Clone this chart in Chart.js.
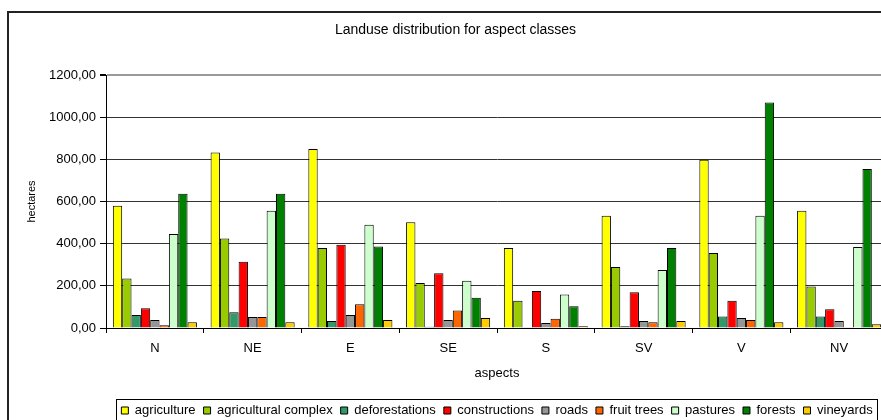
<!DOCTYPE html>
<html>
<head>
<meta charset="utf-8">
<script src="https://cdn.jsdelivr.net/npm/chart.js@4.4.1/dist/chart.umd.min.js"></script>
<style>
  html, body { margin: 0; padding: 0; background: #fff; overflow: hidden; width: 881px; height: 420px; }
  #wrap { position: absolute; left: 0; top: 0; width: 905px; height: 427px; }
</style>
</head>
<body>
<div id="wrap"><canvas id="c"></canvas></div>
<script>
const categories = ['N', 'NE', 'E', 'SE', 'S', 'SV', 'V', 'NV'];
const agriculture         = [580, 833, 849, 502, 380, 532, 798, 556];
const agriculturalComplex = [235, 425, 380, 213, 129, 289, 356, 197];
const deforestations      = [62, 75, 33, 6, 3, 8, 54, 54];
const constructions       = [94, 314, 395, 260, 176, 170, 129, 89];
const roads               = [38, 52, 62, 38, 24, 33, 48, 33];
const fruitTrees          = [13, 52, 113, 83, 44, 27, 38, 3];
const pastures            = [446, 556, 490, 224, 159, 275, 532, 384];
const forests             = [637, 637, 386, 143, 103, 380, 1070, 754];
const vineyards           = [27, 27, 38, 48, 8, 33, 27, 18];
const yTicks = [0, 200, 400, 600, 800, 1000, 1200];

const seriesNames = ['agriculture', 'agricultural complex', 'deforestations', 'constructions', 'roads', 'fruit trees', 'pastures', 'forests', 'vineyards'];
const seriesData = [agriculture, agriculturalComplex, deforestations, constructions, roads, fruitTrees, pastures, forests, vineyards];
const seriesColors = ['#FFFF00', '#99CC00', '#339966', '#FF0000', '#969696', '#FF6600', '#CCFFCC', '#008000', '#FFCC00'];

Chart.defaults.font.family = "'Liberation Sans', Arial, sans-serif";
Chart.defaults.color = '#000';

const frame = {
  id: 'frame',
  beforeDraw(chart) {
    const ctx = chart.ctx;
    ctx.save();
    ctx.fillStyle = '#fff';
    ctx.fillRect(0, 0, chart.width, chart.height);
    ctx.strokeStyle = '#222';
    ctx.lineWidth = 2;
    ctx.strokeRect(8, 12, chart.width + 20, chart.height + 20);
    ctx.restore();
  },
  afterDraw(chart) {
    const lg = chart.legend;
    if (!lg || !lg.legendHitBoxes || !lg.legendHitBoxes.length) return;
    const hb = lg.legendHitBoxes;
    let minX = Infinity, maxX = -Infinity, minY = Infinity, maxY = -Infinity;
    hb.forEach(b => {
      minX = Math.min(minX, b.left); maxX = Math.max(maxX, b.left + b.width);
      minY = Math.min(minY, b.top); maxY = Math.max(maxY, b.top + b.height);
    });
    const ctx = chart.ctx;
    ctx.save();
    ctx.strokeStyle = '#000';
    ctx.lineWidth = 1;
    ctx.strokeRect(Math.round(minX - 5) + 0.5, Math.round(minY - 5) + 0.5, Math.round(maxX - minX + 10), Math.round(maxY - minY + 10));
    ctx.restore();
  }
};

new Chart(document.getElementById('c'), {
  type: 'bar',
  data: {
    labels: categories,
    datasets: seriesNames.map((n, i) => ({
      label: n,
      data: seriesData[i],
      backgroundColor: seriesColors[i],
      borderColor: '#000',
      borderWidth: 1,
      categoryPercentage: 0.86,
      barPercentage: 1.0
    }))
  },
  options: {
    responsive: true,
    maintainAspectRatio: false,
    animation: false,
    layout: { padding: { top: 12, left: 23, right: 17, bottom: 0 } },
    plugins: {
      title: {
        display: true,
        text: 'Landuse distribution for aspect classes',
        color: '#000',
        font: { size: 14, weight: 'normal' },
        padding: { top: 9.6, bottom: 36.6 }
      },
      legend: {
        position: 'bottom',
        fullSize: false,
        labels: { boxWidth: 7, boxHeight: 7, padding: 8, color: '#000', font: { size: 13 } }
      },
      tooltip: { enabled: false }
    },
    scales: {
      x: {
        offset: true,
        grid: { offset: true, drawOnChartArea: false, color: '#000', tickColor: '#000', tickLength: 5 },
        border: { color: '#000', width: 1 },
        ticks: { color: '#000', font: { size: 13 }, padding: 8 },
        title: { display: true, text: 'aspects', color: '#000', font: { size: 13 }, padding: { top: 0, bottom: 15.2 } },
        afterFit(s) { s.height = 68; }
      },
      y: {
        min: 0,
        max: 1200,
        afterBuildTicks(s) { s.ticks = yTicks.map(v => ({ value: v })); },
        ticks: {
          color: '#000',
          font: { size: 13 },
          padding: 4,
          callback: v => Number(v).toFixed(2).replace('.', ',')
        },
        grid: {
          color: c => (c.tick && c.tick.value === 1200) ? '#9a9a9a' : '#333',
          lineWidth: c => (c.tick && c.tick.value === 1200) ? 2 : 1,
          tickColor: '#000',
          tickLength: 6
        },
        border: { color: '#000', width: 1 },
        title: { display: true, text: 'hectares', color: '#000', font: { size: 11 }, padding: { top: 2.4, bottom: 0 } },
        afterFit(s) { s.width = 83; }
      }
    }
  },
  plugins: [frame]
});
</script>
</body>
</html>
